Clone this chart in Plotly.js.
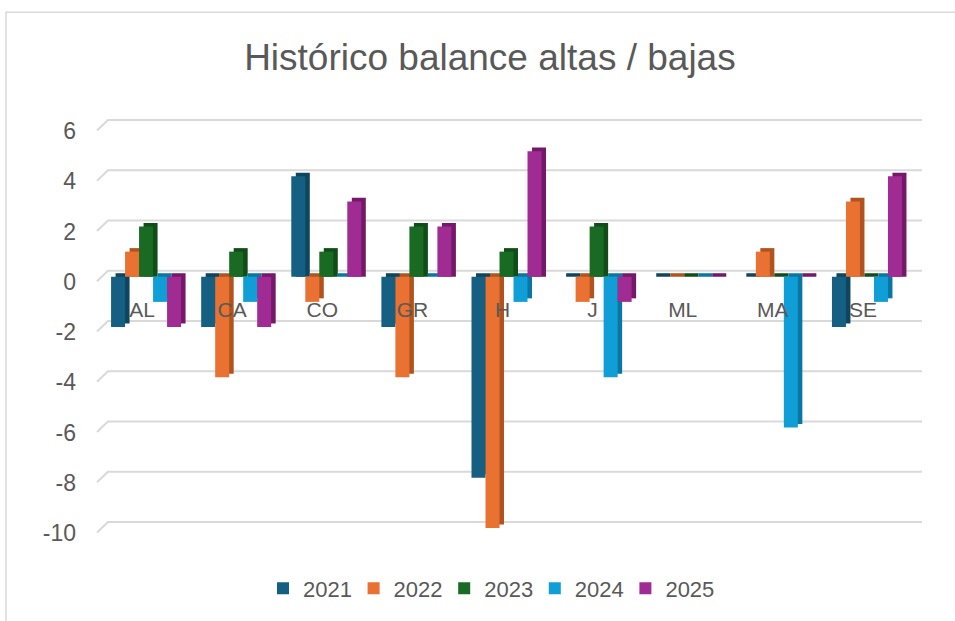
<!DOCTYPE html>
<html><head><meta charset="utf-8">
<script src="https://cdn.plot.ly/plotly-3.0.1.min.js"></script>
<style>html,body{margin:0;padding:0;background:#fff}</style>
</head><body><div id="chart" style="width:955px;height:621px"></div>
<script>
const categories = ['AL','CA','CO','GR','H','J','ML','MA','SE'];
const years = ['2021','2022','2023','2024','2025'];
const v2021 = [-2,-2,4,-2,-8,0,0,0,-2];
const v2022 = [1,-4,-1,-4,-10,-1,0,1,3];
const v2023 = [2,1,1,2,1,2,0,0,0];
const v2024 = [-1,-1,0,0,-1,-4,0,-6,-1];
const v2025 = [-2,-2,3,2,5,-1,0,0,4];
const yTicks = [-10,-8,-6,-4,-2,0,2,4,6];
const yTickLabels = ['-10','-8','-6','-4','-2','0','2','4','6'];
const yMin = -10, yMax = 6;

const series = [v2021,v2022,v2023,v2024,v2025];
const frontColors = ['#156082','#E97132','#196B24','#0F9ED5','#A02B93'];
const sideColors  = ['#0E4660','#B0531F','#114D18','#0A77A2','#74196A'];

const W = 0.1554, START = -0.344, DX = 0.05, DY = 0.14;
const traces = [];
series.forEach((vals,k)=>{
  const off = START + k*W;
  traces.push({
    type:'bar', x:categories, y:vals.map(v=> v<0 ? -v : v+DY),
    base:vals.map(v=> v<0 ? v+DY : 0),
    width:W, offset:off+DX, marker:{color:sideColors[k], line:{width:0}},
    showlegend:false, hoverinfo:'skip'
  });
  traces.push({
    type:'bar', name:years[k], x:categories, y:vals,
    width:W, offset:off, marker:{color:frontColors[k], line:{width:0}},
    hoverinfo:'x+y+name'
  });
});

const PH = 402.5, PB = 528.5;
const shapes = yTicks.map(t=>({
  type:'path', layer:'below', xref:'paper', yref:'paper',
  xsizemode:'pixel', xanchor:0, ysizemode:'pixel', yanchor:(t-yMin)/(yMax-yMin),
  path:'M0,-4.5 L11,6 L825,6', line:{color:'#D9D9D9', width:2}
}));
shapes.push({type:'rect', layer:'below', xref:'paper', yref:'paper',
  x0:(6-97)/811, x1:1.2, y0:-0.4, y1:(PB-12)/PH,
  line:{color:'#D9D9D9', width:1.5}, fillcolor:'rgba(0,0,0,0)'});

const layout = {
  width:955, height:621,
  margin:{l:97, r:47, t:126, b:621-PB, pad:0, autoexpand:false},
  paper_bgcolor:'#ffffff', plot_bgcolor:'rgba(0,0,0,0)',
  barmode:'overlay',
  font:{family:'Liberation Sans, Arial, sans-serif', color:'#595959'},
  title:{text:'Histórico balance altas / bajas', font:{size:37, color:'#595959'},
    x:0.513, xref:'container', xanchor:'center', y:1-57/621, yref:'container', yanchor:'middle'},
  xaxis:{type:'category', range:[-0.5,8.5], showgrid:false, showline:false, zeroline:false,
    ticks:'', anchor:'free', position:0.58, tickfont:{size:21, color:'#595959'}, fixedrange:true},
  yaxis:{range:[yMin,yMax], tickmode:'array', tickvals:yTicks, ticktext:yTickLabels,
    showgrid:false, zeroline:false, showline:false,
    ticks:'', tickfont:{size:23, color:'#595959'}, ticklabelstandoff:20, ticklabelshift:5, fixedrange:true},
  shapes:shapes,
  legend:{orientation:'h', x:(263-97)/811, xanchor:'left', y:(PB-589)/PH, yanchor:'middle',
    font:{size:22, color:'#595959'}, bgcolor:'rgba(0,0,0,0)', traceorder:'normal',
    entrywidth:45.6, entrywidthmode:'pixels'},
  showlegend:true
};
Plotly.newPlot('chart', traces, layout, {displayModeBar:false, staticPlot:true});
</script></body></html>
